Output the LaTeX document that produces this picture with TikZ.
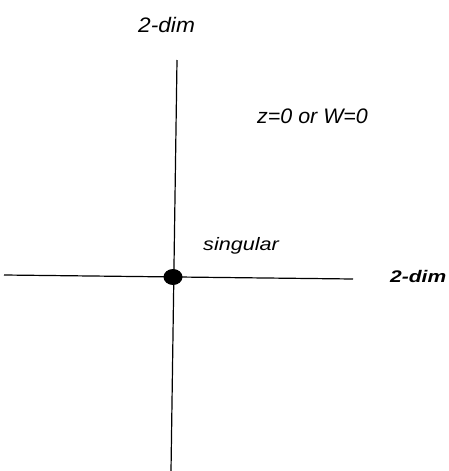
\documentclass[tikz,border=0pt]{standalone}
\usepackage{fontspec}
\setmainfont{Liberation Sans}
\usetikzlibrary{shapes.geometric}
\tikzset{
  axis/.style={line width=1.2pt, black},
  lbl/.style={inner sep=0pt, anchor=base west, font=\itshape},
  dotmark/.style={ellipse, fill=black, minimum width=19pt, minimum height=16pt, inner sep=0pt}
}
\begin{document}
\begin{tikzpicture}[x=1pt,y=-1pt]
\useasboundingbox (0,0) rectangle (449,471);
\coordinate (vtop) at (177,60);
\coordinate (vbot) at (171,471);
\coordinate (hleft) at (4,275);
\coordinate (hright) at (353,279);
\draw[axis] (vtop) -- (vbot);
\draw[axis] (hleft) -- (hright);
\node[dotmark] (dot) at (173,277) {};
\node[lbl] (ltop) at (138,32) {\fontsize{21pt}{21pt}\selectfont\scalebox{1.08}[1]{2-dim}};
\node[lbl] (lz) at (257,123) {\fontsize{21pt}{21pt}\selectfont\scalebox{1.02}[1]{z=0 or W=0}};
\node[lbl] (ls) at (203,250) {\fontsize{18pt}{18pt}\selectfont\scalebox{1.2}[1]{singular}};
\node[lbl] (lr) at (390,282) {\fontsize{16.8pt}{16.8pt}\selectfont\bfseries\itshape\scalebox{1.25}[1]{2-dim}};
\end{tikzpicture}
\end{document}
